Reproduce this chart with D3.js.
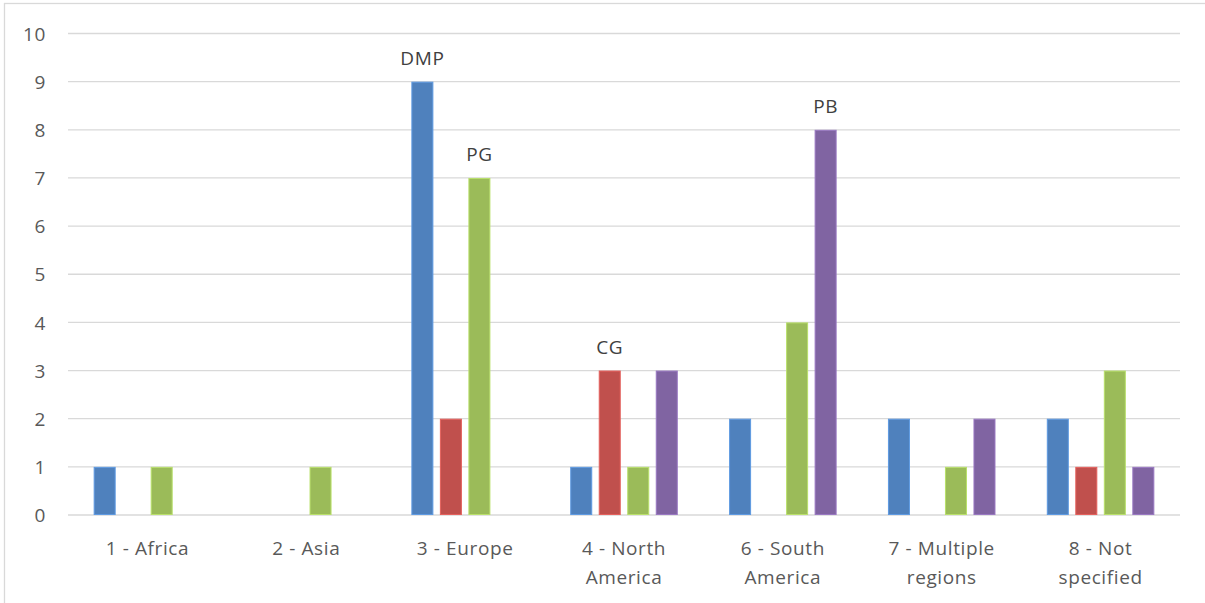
<!DOCTYPE html>
<html>
<head>
<meta charset="utf-8">
<script src="https://cdn.jsdelivr.net/npm/d3@7"></script>
<style>
  html, body { margin: 0; padding: 0; background: #fff; }
  svg { display: block; }
  text { font-family: "Open Sans", "Liberation Sans", sans-serif; letter-spacing: 0.6px; }
</style>
</head>
<body>
<svg id="chart" width="1205" height="603"></svg>
<script>
// Regions on the x axis (each label split into display lines)
const categories = ["1 - Africa", "2 - Asia", "3 - Europe", "4 - North America",
                    "6 - South America", "7 - Multiple regions", "8 - Not specified"];
const categoryLines = [["1 - Africa"], ["2 - Asia"], ["3 - Europe"], ["4 - North", "America"],
                       ["6 - South", "America"], ["7 - Multiple", "regions"], ["8 - Not", "specified"]];

// Counts per series, in category order
const seriesNames = ["DMP", "CG", "PG", "PB"];
const DMP = [1, 0, 9, 1, 2, 2, 2];
const CG  = [0, 0, 2, 3, 0, 0, 1];
const PG  = [1, 1, 7, 1, 4, 1, 3];
const PB  = [0, 0, 0, 3, 8, 2, 1];
const seriesColors = ["#4f81bd", "#c0504d", "#9bbb59", "#8064a2"];
const yTicks = [0, 1, 2, 3, 4, 5, 6, 7, 8, 9, 10];

const seriesValues = { DMP, CG, PG, PB };
const FONT_SIZE = 19;

const svg = d3.select("#chart");

// chart frame
svg.append("rect")
  .attr("x", 4.5).attr("y", 3.5)
  .attr("width", 1210).attr("height", 610)
  .attr("fill", "none").attr("stroke", "#d9d9d9").attr("stroke-width", 1.3);

const x0 = d3.scaleBand().domain(categories).range([68, 1180]).paddingInner(0).paddingOuter(0);
const x1 = d3.scaleBand().domain(seriesNames).range([0, x0.bandwidth()])
  .paddingInner(0.228).paddingOuter(0.9);
const y = d3.scaleLinear().domain([0, 10]).range([515, 33.5]);

// horizontal gridlines
svg.append("g")
  .selectAll("line")
  .data(yTicks)
  .join("line")
  .attr("x1", 68).attr("x2", 1180)
  .attr("y1", d => y(d)).attr("y2", d => y(d))
  .attr("stroke", "#d9d9d9").attr("stroke-width", 1.3);

// y axis labels
const yAxis = d3.axisLeft(y).tickValues(yTicks).tickSize(0).tickPadding(0);
const gy = svg.append("g").attr("transform", "translate(46,0)").call(yAxis);
gy.select(".domain").remove();
gy.selectAll("text")
  .attr("font-family", "Open Sans, Liberation Sans, sans-serif")
  .attr("font-size", FONT_SIZE).attr("fill", "#595959").attr("dy", "0.35em");

// bars
const groups = svg.append("g")
  .selectAll("g")
  .data(seriesNames)
  .join("g")
  .attr("fill", (d, i) => seriesColors[i])
  .attr("stroke", (d, i) => d3.color(seriesColors[i]).brighter(0.5))
  .attr("stroke-width", 1);

groups.selectAll("rect")
  .data(s => categories.map((c, i) => ({ s, c, v: seriesValues[s][i] })).filter(d => d.v > 0))
  .join("rect")
  .attr("x", d => x0(d.c) + x1(d.s) + 0.5)
  .attr("y", d => y(d.v) + 0.5)
  .attr("width", x1.bandwidth() - 1)
  .attr("height", d => y(0) - y(d.v) - 1);

// series names above each series' tallest bar
seriesNames.forEach(s => {
  const vals = seriesValues[s];
  const idx = d3.maxIndex(vals);
  svg.append("text")
    .attr("x", x0(categories[idx]) + x1(s) + x1.bandwidth() / 2)
    .attr("y", y(vals[idx]) - 17)
    .attr("text-anchor", "middle")
    .attr("font-size", FONT_SIZE).attr("fill", "#404040")
    .text(s);
});

// category labels
const xl = svg.append("g");
categories.forEach((c, i) => {
  const t = xl.append("text")
    .attr("x", x0(c) + x0.bandwidth() / 2)
    .attr("y", 555)
    .attr("text-anchor", "middle")
    .attr("font-size", FONT_SIZE).attr("fill", "#595959");
  categoryLines[i].forEach((line, j) => {
    t.append("tspan")
      .attr("x", x0(c) + x0.bandwidth() / 2)
      .attr("dy", j === 0 ? 0 : 29)
      .text(line);
  });
});
</script>
</body>
</html>
